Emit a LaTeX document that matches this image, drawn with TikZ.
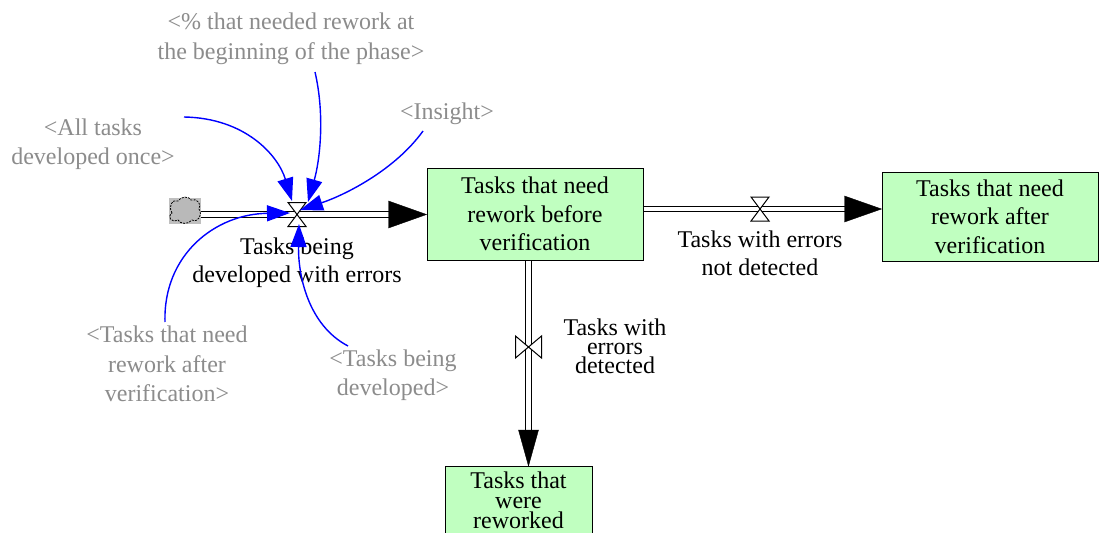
\documentclass[tikz,border=0pt]{standalone}
\usepackage{fontspec}
\setmainfont{Liberation Serif}
\usetikzlibrary{arrows.meta}
\definecolor{stockfill}{RGB}{192,255,192}
\definecolor{shadowgray}{RGB}{140,140,140}
\begin{document}
\begin{tikzpicture}[x=1pt,y=-1pt,
  stockbox/.style={draw=black, line width=1pt, fill=stockfill, align=center, inner sep=0pt,
     font=\fontsize{24}{28.5}\selectfont},
  flowlabel/.style={align=center, inner sep=0pt, font=\fontsize{24}{28.5}\selectfont},
  shadowlabel/.style={align=center, inner sep=0pt, text=shadowgray, font=\fontsize{24}{29.5}\selectfont},
  pipe/.style={line width=1.1pt, double=white, double distance=4.2pt, draw=black},
  pipetip/.style={fill=black, draw=black},
  valveshape/.style={draw=black, line width=1pt, fill=white},
  link/.style={draw=blue, line width=1.4pt, -{Triangle[length=23pt,width=16pt]}, fill=none},
]
\clip (0,0) rectangle (1101,533);
\fill[white] (0,0) rectangle (1101,533);

% stocks
\node[stockbox, minimum width=216pt, minimum height=92pt] (s1) at (535,214)
  {Tasks that need\\rework before\\verification};
\node[stockbox, minimum width=216pt, minimum height=89pt] (s2) at (990,216.5)
  {Tasks that need\\rework after\\verification};
\node[stockbox, minimum width=147pt, minimum height=90pt, anchor=north] (s3) at (518.5,466) {};
\node[flowlabel, font=\fontsize{24}{20}\selectfont, anchor=north] (s3t) at (518.5,472)
  {Tasks that\\were\\reworked};

% cloud
\node[draw=none, fill=gray!50, minimum width=32pt, minimum height=26pt, inner sep=0pt] (cl) at (185,210.5) {};
\draw[line width=0.8pt, fill=gray!55, dash pattern=on 2pt off 1.2pt]
  (172,213) .. controls (168,206) and (172,199) .. (178,201)
  .. controls (181,196) and (189,196) .. (191,200)
  .. controls (197,198) and (202,204) .. (199,209)
  .. controls (203,215) and (198,223) .. (192,220)
  .. controls (188,225) and (180,224) .. (178,220)
  .. controls (171,223) and (167,217) .. (172,213) -- cycle;

% valve positions
\coordinate (v1) at (297,214.5);
\coordinate (v2) at (760,209);
\coordinate (v3) at (528.5,347);

% pipes
\coordinate (p1s) at (201,214.5);
\coordinate (p1e) at (392,214.5);
\coordinate (p1t) at (s1.west |- v1);
\draw[pipe] (p1s) -- (p1e);
\fill[pipetip] (p1t) -- ++(-38,-13.5) -- ++(0,27) -- cycle;

\coordinate (p2s) at (s1.east |- v2);
\coordinate (p2e) at (846,209);
\coordinate (p2t) at (s2.west |- v2);
\draw[pipe] (p2s) -- (p2e);
\fill[pipetip] (p2t) -- ++(-37,-13) -- ++(0,26) -- cycle;

\coordinate (p3s) at (v3 |- s1.south);
\coordinate (p3e) at (528.5,432);
\coordinate (p3t) at (v3 |- s3.north);
\draw[pipe] (p3s) -- (p3e);
\fill[pipetip] (p3t) -- ++(-10,-36) -- ++(20,0) -- cycle;

% valves
\draw[valveshape] ([shift={(-9,-12)}]v1) -- ([shift={(9,-12)}]v1) -- ([shift={(-9,12)}]v1) -- ([shift={(9,12)}]v1) -- cycle;
\draw[valveshape] ([shift={(-9,-12)}]v2) -- ([shift={(9,-12)}]v2) -- ([shift={(-9,12)}]v2) -- ([shift={(9,12)}]v2) -- cycle;
\draw[valveshape] ([shift={(-13,-11)}]v3) -- ([shift={(-13,11)}]v3) -- ([shift={(13,-11)}]v3) -- ([shift={(13,11)}]v3) -- cycle;

% flow labels
\node[flowlabel] (f1) at (297,262.5) {Tasks being\\developed with errors};
\node[flowlabel] (f2) at (760,253.5) {Tasks with errors\\not detected};
\node[flowlabel, font=\fontsize{24}{19}\selectfont] (f3) at (615,346) {Tasks with\\errors\\detected};

% shadow labels
\node[shadowlabel] (pct) at (291,39) {<\% that needed rework at\\the beginning of the phase>};
\node[shadowlabel] (all) at (93,144) {<All tasks\\developed once>};
\node[shadowlabel] (ins) at (447,114) {<Insight>};
\node[shadowlabel] (aft) at (167,364) {<Tasks that need\\rework after\\verification>};
\node[shadowlabel] (dev) at (393,375) {<Tasks being\\developed>};

% link ends
\coordinate (a1s) at (315,72);
\coordinate (a1e) at (308,202);
\coordinate (a2s) at (184,117);
\coordinate (a2e) at (292,201);
\coordinate (a3s) at (423,131);
\coordinate (a3e) at (300,210);
\coordinate (a4s) at (165,322);
\coordinate (a4e) at (290,213);
\coordinate (a5s) at (348,346);
\coordinate (a5e) at (299,224);

\draw[link] (a1s) .. controls (325,115) and (320,160) .. (a1e);
\draw[link] (a2s) .. controls (245,118) and (278,155) .. (a2e);
\draw[link] (a3s) .. controls (395,170) and (345,195) .. (a3e);
\draw[link] (a4s) .. controls (163,255) and (215,214) .. (a4e);
\draw[link] (a5s) .. controls (308,325) and (298,275) .. (a5e);
\end{tikzpicture}
\end{document}
